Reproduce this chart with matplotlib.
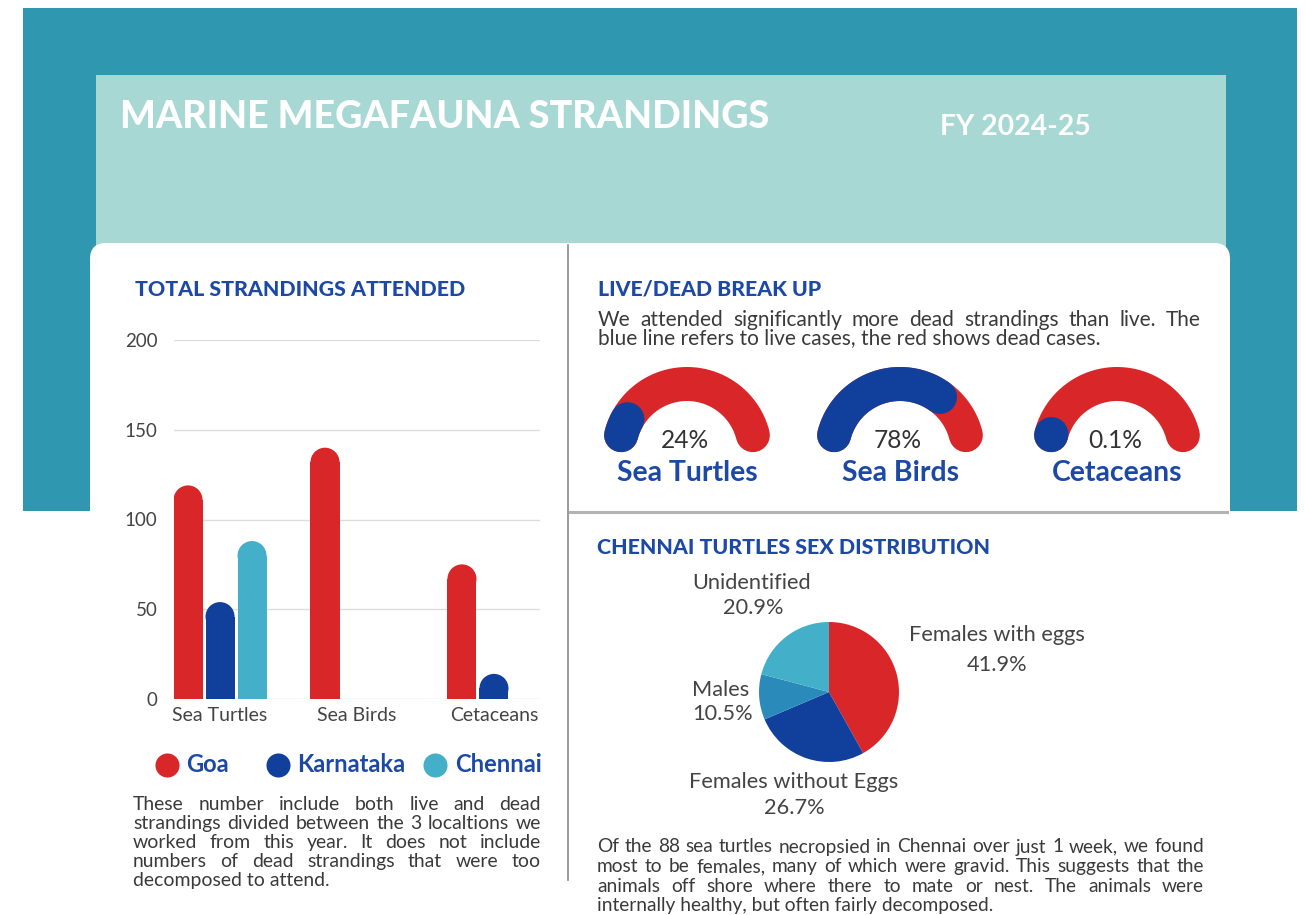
import matplotlib
matplotlib.use("Agg")
import matplotlib.pyplot as plt
from matplotlib.patches import Rectangle, FancyBboxPatch, Ellipse
import numpy as np

plt.rcParams['font.family'] = ['Lato', 'DejaVu Sans']

# ---------------- data ----------------
categories = ['Sea Turtles', 'Sea Birds', 'Cetaceans']
locations = ['Goa', 'Karnataka', 'Chennai']
goa = [119, 140, 75]
karnataka = [54, 0, 14]
chennai = [88, 0, 0]
y_ticks = [0, 50, 100, 150, 200]

gauge_names = ['Sea Turtles', 'Sea Birds', 'Cetaceans']
live_pct = [24, 78, 0.1]
live_labels = ['24%', '78%', '0.1%']

sex_labels = ['Females with eggs', 'Females without Eggs', 'Males', 'Unidentified']
sex_pct = [41.9, 26.7, 10.5, 20.9]

title = 'MARINE MEGAFAUNA STRANDINGS'
subtitle = 'FY 2024-25'
left_note = ["These number include both live and dead",
             "strandings divided between the 3 localtions we",
             "worked from this year. It does not include",
             "numbers of dead strandings that were too",
             "decomposed to attend."]
gauge_note = ["We attended significantly more dead strandings than live. The",
              "blue line refers to live cases, the red shows dead cases."]
pie_note = ["Of the 88 sea turtles necropsied in Chennai over just 1 week, we found",
            "most to be females, many of which were gravid. This suggests that the",
            "animals off shore where there to mate or nest. The animals were",
            "internally healthy, but often fairly decomposed."]

# ---------------- colours ----------------
TEAL = '#2f98b0'
LIGHT = '#a8d8d4'
RED = '#d92629'
DBLUE = '#11409c'
CTEAL = '#43afc9'
MBLUE = '#2a8bbb'
HBLUE = '#1c49a6'
GTXT = '#3a3a3a'

W, H = 1305, 915
fig = plt.figure(figsize=(W / 100, H / 100), dpi=100)
bg = fig.add_axes([0, 0, 1, 1])
bg.set_xlim(0, W)
bg.set_ylim(H, 0)
bg.axis('off')
renderer = fig.canvas.get_renderer()

# background blocks
bg.add_patch(Rectangle((23, 8), 1274, 503, color=TEAL, lw=0))
bg.add_patch(Rectangle((96, 75), 1130, 180, color=LIGHT, lw=0))
bg.add_patch(FancyBboxPatch((90, 243), 1140, 720, boxstyle='round,pad=0,rounding_size=16',
                            fc='white', ec='none'))
bg.plot([568, 568], [245, 880], color='#8a8a8a', lw=1.2)
bg.plot([570, 1227], [512, 512], color='#b3b3b3', lw=2.2)


def text_w(s, size, **kw):
    t = bg.text(0, 0, s, fontsize=size, **kw)
    w = t.get_window_extent(renderer).width
    t.remove()
    return w


def fit(x, y, s, width, size=12, **kw):
    w = text_w(s, size, **{k: v for k, v in kw.items() if k in ('weight', 'family')})
    fs = size * width / w
    return bg.text(x, y, s, fontsize=fs, **kw), fs


def justify(lines, x0, x1, y0, dy, fs, color):
    width = x1 - x0
    mx = max(text_w(l, fs) for l in lines)
    if mx > width * 0.985:
        fs = fs * width * 0.985 / mx
    for i, line in enumerate(lines):
        y = y0 + i * dy
        if i == len(lines) - 1:
            bg.text(x0, y, line, fontsize=fs, color=color, va='center')
            continue
        words = line.split()
        ws = [text_w(w, fs) for w in words]
        gap = (width - sum(ws)) / (len(words) - 1)
        x = x0
        for w, ww in zip(words, ws):
            bg.text(x, y, w, fontsize=fs, color=color, va='center')
            x += ww + gap


# header texts
fit(120, 117, title, 645, color='white', weight='black', va='center')
fit(940, 127, subtitle, 150, color='white', weight='bold', va='center')
fit(135, 289, 'TOTAL STRANDINGS ATTENDED', 328, color=HBLUE, weight='black', va='center')
fit(598, 289, 'LIVE/DEAD BREAK UP', 222, color=HBLUE, weight='black', va='center')
fit(597, 547, 'CHENNAI TURTLES SEX DISTRIBUTION', 391, color=HBLUE, weight='black', va='center')

# ---------------- bar chart ----------------
ax = fig.add_axes([174 / W, 1 - 699 / H, 366 / W, 359 / H])
x = np.arange(len(categories))
off, bw = 0.2336, 0.212
ax.set_xlim(-0.336, 2.336)
ax.set_ylim(0, 200)
ry = (bw / 2) * (366 / 2.672) / (359 / 200)   # half-width expressed in y units
for i, (vals, col) in enumerate(zip([goa, karnataka, chennai], [RED, DBLUE, CTEAL])):
    bars = ax.bar(x + (i - 1) * off, vals, bw, color=col, lw=0, zorder=3)
    for b, h in zip(bars, vals):
        if h <= 0:
            b.set_visible(False)
            continue
        b.set_height(max(h - ry, 0))
        ax.add_patch(Ellipse((b.get_x() + bw / 2, h - ry), bw, 2 * ry,
                             fc=col, ec='none', zorder=3))
ax.set_yticks(y_ticks)
ax.set_xticks(x)
ax.set_xticklabels(categories)
ax.grid(axis='y', color='#dddddd', lw=1, zorder=0)
ax.set_axisbelow(True)
for s in ax.spines.values():
    s.set_visible(False)
ax.tick_params(axis='y', length=0, pad=12, labelsize=13.5, labelcolor='#444444')
ax.tick_params(axis='x', length=0, pad=6, labelsize=14, labelcolor='#444444')

# legend
leg_cx = [167, 278, 435]
leg_tx = [186, 297, 455]
_, lfs = fit(0, 0, 'Karnataka', 108, weight='bold', alpha=0)
for name, cx, tx, col in zip(locations, leg_cx, leg_tx, [RED, DBLUE, CTEAL]):
    bg.scatter([cx], [765], s=300, color=col, lw=0, zorder=5)
    bg.text(tx, 765, name, fontsize=lfs, weight='bold', color=HBLUE, va='center')

justify(left_note, 133, 541, 805, 18.8, 14, GTXT)

# ---------------- gauges ----------------
gx = [687, 900, 1117]
gy = 452
Rm = 68
lw_pt = 34 * 0.72
cap = np.degrees(17 / Rm)
_, gfs = fit(0, 0, 'Sea Turtles', 140, weight='bold', alpha=0)
_, pfs = fit(0, 0, '24%', 48, alpha=0)
for cx, p, lab, name in zip(gx, live_pct, live_labels, gauge_names):
    th = np.radians(np.linspace(180 - cap, cap, 200))
    bg.plot(cx + Rm * np.cos(th), gy - Rm * np.sin(th), color=RED, lw=lw_pt,
            solid_capstyle='round', zorder=4)
    start = 180 - cap
    end = min(start - 1.0, 180 - p * 1.8 + cap)
    n = max(3, int(abs(start - end)))
    tb = np.radians(np.linspace(start, end, n))
    bg.plot(cx + Rm * np.cos(tb), gy - Rm * np.sin(tb), color=DBLUE, lw=lw_pt,
            solid_capstyle='round', zorder=5)
    bg.text(cx - 2, 440, lab, fontsize=pfs, color='#333333', ha='center', va='center', zorder=6)
    bg.text(cx, 473, name, fontsize=gfs, weight='bold', color=HBLUE, ha='center', va='center')

justify(gauge_note, 598, 1201, 320, 18, 15, GTXT)

# ---------------- pie ----------------
pcx, pcy, pr = 829, 692, 70
axp = fig.add_axes([(pcx - pr) / W, 1 - (pcy + pr) / H, 2 * pr / W, 2 * pr / H])
axp.pie(sex_pct, colors=[RED, DBLUE, MBLUE, CTEAL], startangle=90, counterclock=False,
        wedgeprops=dict(lw=0))
axp.set_xlim(-1, 1)
axp.set_ylim(-1, 1)
axp.axis('off')

_, sfs = fit(0, 0, 'Females without Eggs', 208, alpha=0)
pie_pos = {
    'Females with eggs': ((997, 635), (997, 665)),
    'Females without Eggs': ((794, 782), (794, 808)),
    'Males': ((721, 690), (722, 714)),
    'Unidentified': ((752, 583), (753, 608)),
}
for lab, v in zip(sex_labels, sex_pct):
    (x1, y1), (x2, y2) = pie_pos[lab]
    bg.text(x1, y1, lab, fontsize=sfs, color='#444444', ha='center', va='center')
    bg.text(x2, y2, f'{v}%', fontsize=sfs, color='#444444', ha='center', va='center')

justify(pie_note, 597, 1204, 847, 19.5, 14, GTXT)

fig.savefig('out.png', dpi=100)
